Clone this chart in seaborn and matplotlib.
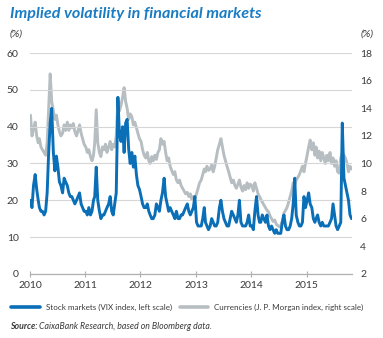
import pandas as pd
import matplotlib
matplotlib.use("Agg")
import matplotlib.pyplot as plt
import matplotlib.dates as mdates
from matplotlib.lines import Line2D
import seaborn as sns

# ---- data (3 readings per month: days 5, 15, 25), Jan 2010 - Oct 2015 ----
vix_2010 = [20, 18, 24, 27, 23, 20, 18, 17, 17, 16, 17, 22, 33, 41, 45, 33, 28, 32,
            29, 25, 24, 22, 26, 25, 24, 22, 21, 21, 20, 19, 20, 21, 22, 19, 18, 17]
vix_2011 = [17, 16, 18, 16, 17, 20, 21, 29, 20, 17, 15, 16, 16, 17, 18, 19, 21, 17,
            16, 19, 22, 48, 38, 36, 40, 33, 41, 42, 34, 30, 33, 29, 32, 27, 24, 23]
vix_2012 = [21, 19, 18, 18, 19, 17, 16, 15, 15, 16, 19, 18, 17, 20, 22, 26, 21, 19,
            17, 18, 17, 16, 15, 17, 15, 15, 16, 16, 17, 18, 19, 17, 16, 17, 18, 21]
vix_2013 = [14, 13, 13, 13, 15, 18, 14, 13, 12, 13, 15, 14, 13, 13, 14, 18, 20, 17,
            15, 14, 13, 13, 15, 17, 16, 15, 14, 16, 20, 14, 13, 13, 13, 14, 16, 13]
vix_2014 = [13, 12, 17, 21, 16, 14, 14, 16, 15, 14, 16, 13, 12, 13, 12, 11, 12, 11,
            11, 11, 14, 16, 13, 12, 12, 13, 15, 19, 26, 16, 14, 13, 13, 14, 21, 18]
vix_2015 = [20, 22, 19, 18, 15, 14, 15, 16, 14, 13, 14, 13, 13, 13, 13, 14, 15, 19,
            16, 13, 12, 13, 14, 41, 26, 24, 22, 20, 16, 15]

fx_2010 = [13.5, 12.0, 12.5, 13.0, 12.0, 11.5, 11.8, 11.2, 11.0, 10.8, 10.6, 11.5,
           14.0, 16.5, 14.5, 13.8, 13.2, 13.5, 12.8, 12.3, 12.0, 12.2, 12.8, 12.4,
           13.0, 12.4, 12.8, 12.6, 12.9, 12.3, 12.0, 12.4, 12.8, 12.2, 11.8, 11.4]
fx_2011 = [11.2, 10.8, 11.0, 10.5, 10.2, 10.6, 11.5, 13.9, 11.5, 10.8, 10.5, 11.2,
           11.0, 11.4, 10.8, 11.2, 11.6, 11.0, 11.4, 11.2, 12.0, 14.6, 13.8, 14.2,
           14.8, 15.5, 14.5, 14.0, 13.2, 13.6, 13.4, 12.8, 13.0, 12.6, 12.2, 11.8]
fx_2012 = [11.6, 11.0, 10.6, 10.4, 10.8, 10.2, 10.0, 10.5, 10.2, 10.6, 10.3, 10.8,
           11.0, 11.8, 11.4, 11.6, 10.8, 10.2, 10.4, 9.8, 9.5, 9.2, 9.4, 8.8,
           8.6, 8.8, 8.4, 8.2, 8.0, 7.8, 7.9, 7.6, 7.8, 7.4, 7.6, 7.5]
fx_2013 = [7.8, 8.2, 8.6, 8.8, 9.2, 9.6, 9.4, 9.8, 9.5, 9.6, 9.9, 9.4,
           9.8, 10.4, 11.0, 11.4, 11.8, 11.2, 10.6, 10.2, 9.8, 9.4, 9.0, 8.6,
           8.8, 8.4, 8.2, 8.5, 8.8, 8.3, 8.0, 8.4, 8.1, 8.6, 8.2, 8.5]
fx_2014 = [8.4, 8.0, 8.6, 8.2, 7.8, 7.6, 7.4, 7.2, 7.0, 6.8, 6.6, 6.5,
           6.2, 6.0, 5.8, 5.9, 5.6, 5.5, 5.4, 5.5, 5.8, 6.4, 6.6, 6.8,
           7.2, 7.6, 8.0, 8.6, 8.4, 8.8, 9.0, 9.2, 9.5, 9.8, 9.4, 10.0]
fx_2015 = [10.6, 11.2, 11.7, 11.0, 11.5, 10.6, 11.2, 10.4, 10.9, 10.2, 10.8, 10.4,
           10.0, 10.6, 10.2, 10.8, 10.0, 10.4, 9.8, 10.2, 9.4, 9.3, 10.4, 10.8,
           10.6, 10.4, 10.0, 9.4, 9.8, 9.6]

year_labels = ["2010", "2011", "2012", "2013", "2014", "2015"]
left_ticks = [0, 10, 20, 30, 40, 50, 60]
right_ticks = [2, 4, 6, 8, 10, 12, 14, 16, 18]
title = "Implied volatility in financial markets"
label_vix = "Stock markets (VIX index, left scale)"
label_fx = "Currencies (J. P. Morgan index, right scale)"

vix = vix_2010 + vix_2011 + vix_2012 + vix_2013 + vix_2014 + vix_2015
fx = fx_2010 + fx_2011 + fx_2012 + fx_2013 + fx_2014 + fx_2015
dates = [pd.Timestamp(int(y), m, d) for y in year_labels for m in range(1, 13)
         for d in (5, 15, 25)][:len(vix)]
df = pd.DataFrame({"date": dates, "vix": vix, "fx": fx})

BLUE = "#0a6fb7"
GREY = "#b7bec2"
TXT = "#3a3a3a"

sns.set_theme(style="white")
plt.rcParams["font.family"] = ["Lato", "DejaVu Sans"]

fig = plt.figure(figsize=(3.83, 3.38), dpi=100)
ax = fig.add_axes([0.078, 0.19, 0.841, 0.6526])
ax2 = ax.twinx()

sns.lineplot(data=df, x="date", y="fx", ax=ax2, color=GREY, lw=2.1)
sns.lineplot(data=df, x="date", y="vix", ax=ax, color=BLUE, lw=2.1)

ax.set_zorder(ax2.get_zorder() + 1)
ax.patch.set_visible(False)

ax.set_xlim(pd.Timestamp("2010-01-01"), pd.Timestamp("2015-10-28"))
ax.set_ylim(0, 60)
ax2.set_ylim(2, 18)
ax.set_yticks(left_ticks)
ax2.set_yticks(right_ticks)
ax.set_yticklabels([str(v) for v in left_ticks])
ax2.set_yticklabels([str(v) for v in right_ticks])
ax.xaxis.set_major_locator(mdates.YearLocator())
ax.xaxis.set_major_formatter(mdates.DateFormatter("%Y"))

ax.grid(axis="y", color="#d6d6d6", lw=0.8)
ax.set_axisbelow(True)
for a in (ax, ax2):
    a.set_xlabel("")
    a.set_ylabel("")
    for s in ("left", "right", "top"):
        a.spines[s].set_visible(False)
ax2.spines["bottom"].set_visible(False)
ax.spines["bottom"].set_color("#b0b0b0")
ax.spines["bottom"].set_linewidth(0.9)

ax.tick_params(axis="y", length=0, labelsize=7.5, colors=TXT, pad=8)
ax2.tick_params(axis="y", length=0, labelsize=7.5, colors=TXT, pad=6)
ax.tick_params(axis="x", direction="inout", length=4, width=0.8, color="#b0b0b0",
               labelsize=7.5, labelcolor=TXT, pad=3, bottom=True)

fig.text(0.026, 0.958, title, color="#1a7cc4", fontsize=11.6, fontweight="bold",
         fontstyle="italic", va="center", ha="left")
fig.text(0.026, 0.898, "(%)", color=TXT, fontsize=7.5, fontstyle="italic", va="center")
fig.text(0.975, 0.898, "(%)", color=TXT, fontsize=7.5, fontstyle="italic", va="center",
         ha="right")

handles = [Line2D([], [], color=BLUE, lw=2.6), Line2D([], [], color=GREY, lw=2.6)]
fig.legend(handles, [label_vix, label_fx], loc="center", bbox_to_anchor=(0.489, 0.091),
           ncol=2, frameon=False, fontsize=5.8, handlelength=3.5, columnspacing=1.0,
           handletextpad=0.75, labelcolor=TXT, borderpad=0, borderaxespad=0)

t1 = fig.text(0.026, 0.027, "Source:", fontsize=6.3, fontweight="bold",
              fontstyle="italic", color=TXT, va="baseline")
plt.annotate(" CaixaBank Research, based on Bloomberg data.", xy=(1, 0),
             xycoords=t1, fontsize=6.3, fontstyle="italic", color=TXT,
             va="bottom", ha="left", annotation_clip=False)

fig.savefig("out.png", dpi=100)
